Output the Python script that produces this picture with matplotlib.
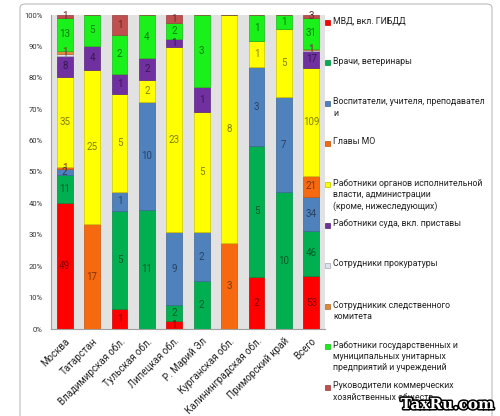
import numpy as np
import matplotlib
matplotlib.use('Agg')
import matplotlib.pyplot as plt
import matplotlib.colors as mcolors
from matplotlib.patches import FancyBboxPatch, Rectangle
import matplotlib.patheffects as pe

plt.rcParams['font.family'] = ['Roboto', 'DejaVu Sans']

# категории (регионы)
regions = ['Москва', 'Татарстан', 'Владимирская обл.', 'Тульская обл.', 'Липецкая обл.',
           'Р. Марий Эл', 'Курганская обл.', 'Калининградская обл.', 'Приморский край', 'Всего']

# подписи серий (как в легенде, с переносами)
series_names = ['МВД, вкл. ГИБДД',
                'Врачи, ветеринары',
                'Воспитатели, учителя, преподавател\nи',
                'Главы МО',
                'Работники органов исполнительной\nвласти, администрации\n(кроме, нижеследующих)',
                'Работники суда, вкл. приставы',
                'Сотрудники прокуратуры',
                'Сотрудникик следственного\nкомитета',
                'Работники государственных и\nмуниципальных унитарных\nпредприятий и учреждений',
                'Руководители коммерческих\nхозяйственных обществ']

# значения по сериям (порядок регионов как выше)
mvd       = [49, 0, 1, 0, 1, 0, 0, 2, 0, 53]
vrachi    = [11, 0, 5, 11, 2, 2, 0, 5, 10, 46]
uchitelya = [2, 0, 1, 10, 9, 2, 0, 3, 7, 34]
glavy_mo  = [1, 17, 0, 0, 0, 0, 3, 0, 0, 21]
ispolnit  = [35, 25, 5, 2, 23, 5, 8, 1, 5, 109]
sud       = [8, 4, 1, 2, 1, 1, 0, 0, 0, 17]
prokur    = [1, 0, 0, 0, 0, 0, 0, 0, 0, 1]
sledkom   = [1, 0, 0, 0, 0, 0, 0, 0, 0, 1]
unitarn   = [13, 5, 2, 4, 2, 3, 0, 1, 1, 31]
kommerch  = [1, 0, 1, 0, 1, 0, 0, 0, 0, 3]

colors = ['#FF0000', '#00B050', '#4F81BD', '#F7690F', '#FFFF00',
          '#7030A0', '#DCE3EE', '#E0883A', '#1AF01A', '#C0504D']

data = np.array([mvd, vrachi, uchitelya, glavy_mo, ispolnit,
                 sud, prokur, sledkom, unitarn, kommerch], dtype=float)
totals = data.sum(axis=0)
share = data / totals

def darker(c, k=0.45):
    r, g, b = mcolors.to_rgb(c)
    return (r * k, g * k, b * k)

fig = plt.figure(figsize=(5, 4.16), dpi=100)

# рамка всей диаграммы
frame = FancyBboxPatch((20 / 500, -0.05), 472 / 500, 1 - 4 / 416 + 0.05,
                       boxstyle='round,pad=0,rounding_size=0.01',
                       transform=fig.transFigure, fc='white', ec='#BDBDBD', lw=0.8,
                       zorder=-5)
fig.patches.append(frame)

ax = fig.add_axes([51 / 500, 1 - 329 / 416, 274 / 500, 314 / 416])
ax.set_facecolor('#E2E2E2')

x = np.arange(len(regions))
bottom = np.zeros(len(regions))
for i in range(len(series_names)):
    ax.bar(x, share[i], 0.58, bottom=bottom, color=colors[i],
           edgecolor=darker(colors[i], 0.8), linewidth=0.5)
    for j in range(len(regions)):
        if data[i, j] > 0:
            ax.text(x[j], bottom[j] + share[i, j] / 2, '%d' % data[i, j],
                    ha='center', va='center', fontsize=7, color=darker(colors[i], 0.5))
    bottom += share[i]

ax.set_xlim(-0.5, len(regions) - 0.5)
ax.set_ylim(0, 1)
ax.set_yticks(np.arange(0, 1.01, 0.1))
ax.set_yticklabels(['%d%%' % v for v in range(0, 101, 10)], fontsize=5.5, color='#333333')
ax.set_xticks(x)
ax.set_xticklabels(regions, rotation=45, ha='right', rotation_mode='anchor',
                   fontsize=7, color='#222222')
ax.tick_params(axis='y', length=0, pad=6)
ax.tick_params(axis='x', length=0, pad=5)
for s in ['top', 'right']:
    ax.spines[s].set_visible(False)
for s in ['left', 'bottom']:
    ax.spines[s].set_color('#A0A0A0')
    ax.spines[s].set_linewidth(0.8)

# легенда справа
leg_y = [22, 62, 103, 143, 184, 225, 265, 306, 346, 387]
for i, name in enumerate(series_names):
    yy = leg_y[i]
    fig.patches.append(Rectangle((325 / 500, 1 - (yy + 2.5) / 416), 5 / 500, 5 / 416,
                                 transform=fig.transFigure, fc=colors[i],
                                 ec=darker(colors[i], 0.75), lw=0.5))
    fig.text(333 / 500, 1 - (yy - 5.5) / 416, name, ha='left', va='top',
             fontsize=6.3, color='#222222', linespacing=1.35)

fig.text(494 / 500, 1 - 412 / 416, 'TaxRu.com', ha='right', va='bottom', fontsize=11,
         fontweight='bold', family='DejaVu Serif', color='white',
         path_effects=[pe.withStroke(linewidth=2.2, foreground='black')])

fig.savefig('out.png', dpi=100)
